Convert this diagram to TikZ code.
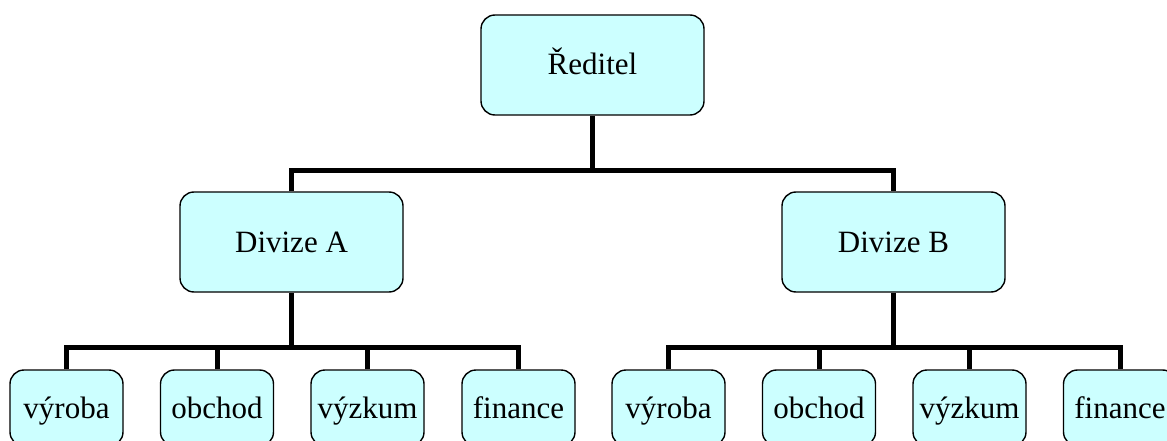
\documentclass[tikz,border=0pt]{standalone}
\usepackage{fontspec}
\setmainfont{Liberation Serif}
\usetikzlibrary{backgrounds}
\definecolor{boxfill}{HTML}{CCFFFF}
\begin{document}
\begin{tikzpicture}[x=1pt,y=-1pt,
  box/.style={draw, line width=1.4pt, rounded corners=14pt, fill=boxfill,
    inner sep=0pt, text height=24pt, text depth=4pt,
    font=\fontsize{31}{36}\selectfont},
  bigbox/.style={box, minimum width=223pt, minimum height=100pt},
  smallbox/.style={box, minimum width=113pt, minimum height=76pt},
  link/.style={line width=5pt, line join=miter}]
\useasboundingbox (0,0) rectangle (1167,441);
\clip (0,0) rectangle (1167,441);

% top level and divisions
\node[bigbox] (root) at (592.5,65) {Ředitel};
\node[bigbox] (divA) at (291.5,242) {Divize A};
\node[bigbox] (divB) at (893.5,242) {Divize B};

% departments of division A
\node[smallbox] (a1) at (66.5,408)  {výroba};
\node[smallbox] (a2) at (217,408)   {obchod};
\node[smallbox] (a3) at (367.5,408) {výzkum};
\node[smallbox] (a4) at (518.5,408) {finance};

% departments of division B
\node[smallbox] (b1) at (668.5,408) {výroba};
\node[smallbox] (b2) at (819,408)   {obchod};
\node[smallbox] (b3) at (969.5,408) {výzkum};
\node[smallbox] (b4) at (1120,408)  {finance};

\coordinate (topbar) at (0,170);
\coordinate (lowbar) at (0,347);

\begin{scope}[on background layer]
  \draw[link] (root.south) -- (root.south |- topbar);
  \draw[link] (divA.north) |- (topbar -| divB.north) -- (divB.north);

  \draw[link] (divA.south) -- (divA.south |- lowbar);
  \draw[link] (a1.north) |- (lowbar -| a4.north) -- (a4.north);
  \draw[link] (a2.north) -- (a2.north |- lowbar);
  \draw[link] (a3.north) -- (a3.north |- lowbar);

  \draw[link] (divB.south) -- (divB.south |- lowbar);
  \draw[link] (b1.north) |- (lowbar -| b4.north) -- (b4.north);
  \draw[link] (b2.north) -- (b2.north |- lowbar);
  \draw[link] (b3.north) -- (b3.north |- lowbar);
\end{scope}
\end{tikzpicture}
\end{document}
